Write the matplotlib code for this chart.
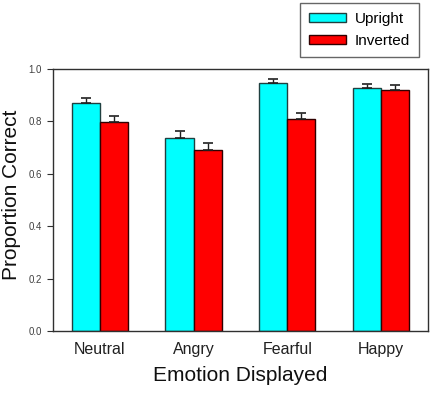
import matplotlib.pyplot as plt
import numpy as np

plt.rcParams['font.family'] = ['Liberation Sans', 'DejaVu Sans']

emotions = ['Neutral', 'Angry', 'Fearful', 'Happy']
upright = [0.870, 0.738, 0.948, 0.929]
upright_err = [0.020, 0.025, 0.015, 0.015]
inverted = [0.799, 0.691, 0.809, 0.919]
inverted_err = [0.023, 0.027, 0.022, 0.018]

fig = plt.figure(figsize=(4.34, 3.96), dpi=100)
ax = fig.add_axes([0.122, 0.164, 0.864, 0.662])

x = np.arange(len(emotions))
w = 0.3
b1 = ax.bar(x - w/2, upright, w, color='#00ffff', edgecolor='#204040', linewidth=1,
            yerr=[np.zeros(4), upright_err], error_kw=dict(ecolor='#202020', capsize=3.5, elinewidth=1, capthick=1.2),
            label='Upright')
b2 = ax.bar(x + w/2, inverted, w, color='#ff0000', edgecolor='#300000', linewidth=1,
            yerr=[np.zeros(4), inverted_err], error_kw=dict(ecolor='#202020', capsize=3.5, elinewidth=1, capthick=1.2),
            label='Inverted')

ax.set_xlim(-0.5, 3.5)
ax.set_ylim(0, 1.0)
ax.set_yticks([0.0, 0.2, 0.4, 0.6, 0.8, 1.0])
ax.set_yticklabels(['0.0', '0.2', '0.4', '0.6', '0.8', '1.0'], fontsize=7, color='#404040')
ax.set_xticks(x)
ax.set_xticklabels(emotions, fontsize=11.5, color='#202020')
ax.tick_params(axis='x', length=0, pad=8)
ax.tick_params(axis='y', direction='out', length=4, width=0.8, color='#303030', pad=4)
for s in ax.spines.values():
    s.set_color('#303030')
    s.set_linewidth(1)

ax.set_xlabel('Emotion Displayed', fontsize=15, color='#101010', labelpad=6)
ax.set_ylabel('Proportion Correct', fontsize=15, color='#101010')
ax.yaxis.set_label_coords(-0.085, 0.52)

leg = fig.legend(handles=[b1, b2], labels=['Upright', 'Inverted'], loc='upper right',
                 bbox_to_anchor=(0.966, 0.993), fontsize=11, frameon=True, fancybox=False,
                 handlelength=2.4, handleheight=0.5, handletextpad=0.6, borderpad=0.6,
                 labelspacing=0.5, edgecolor='#404040', borderaxespad=0)
leg.get_frame().set_linewidth(1)

fig.savefig('out.png', dpi=100)
